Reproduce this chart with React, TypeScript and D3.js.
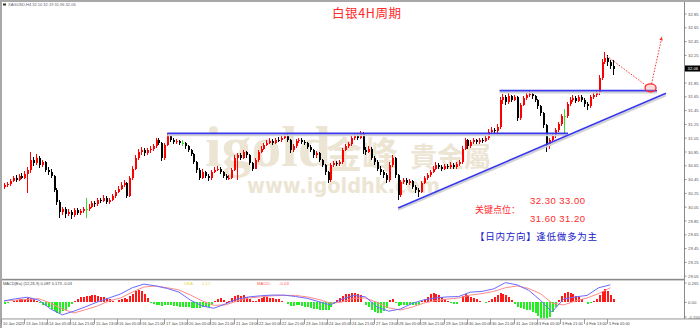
import React from "react";
import * as d3 from "d3";

// ---------- DATA ----------
const symbolHeader = "XAGUSD,H4  32.10 32.19 31.96 32.06";
const titleText = "白银4H周期";
const firstOpen = 30.35;
const closes = [
  30.37, 30.38, 30.43, 30.47, 30.45, 30.50, 30.48, 30.53, 30.59, 30.73,
  30.69, 30.76, 30.66, 30.70, 30.59, 30.56, 30.50, 30.30, 30.12, 29.98,
  30.03, 29.95, 29.98, 29.93, 30.01, 29.96, 29.99, 30.03, 30.03, 30.06,
  30.11, 30.09, 30.15, 30.14, 30.18, 30.12, 30.16, 30.21, 30.27, 30.32,
  30.37, 30.40, 30.21, 30.47, 30.61, 30.76, 30.85, 30.88, 30.83, 30.88,
  30.89, 30.93, 31.02, 30.98, 30.76, 30.95, 31.08, 31.02, 30.99, 31.01,
  30.98, 30.98, 30.93, 30.88, 30.82, 30.70, 30.59, 30.48, 30.56, 30.50,
  30.47, 30.56, 30.59, 30.61, 30.56, 30.50, 30.47, 30.48, 30.59, 30.76,
  30.80, 30.77, 30.85, 30.80, 30.69, 30.61, 30.73, 30.85, 30.90, 30.95,
  30.98, 31.01, 30.98, 31.03, 31.02, 31.06, 31.09, 31.02, 30.88, 30.93,
  31.01, 31.02, 30.99, 30.98, 30.92, 30.88, 30.80, 30.83, 30.73, 30.66,
  30.56, 30.44, 30.66, 30.69, 30.67, 30.70, 30.88, 30.93, 30.96, 31.05,
  31.08, 31.06, 31.12, 30.88, 30.85, 30.90, 30.77, 30.70, 30.61, 30.56,
  30.51, 30.44, 30.66, 30.76, 30.51, 30.22, 30.41, 30.44, 30.40, 30.43,
  30.35, 30.30, 30.27, 30.40, 30.47, 30.51, 30.56, 30.61, 30.66, 30.63,
  30.61, 30.64, 30.63, 30.66, 30.63, 30.67, 30.70, 30.90, 31.02, 30.93,
  30.99, 31.02, 30.99, 31.03, 31.01, 31.05, 31.14, 31.17, 31.15, 31.21,
  31.60, 31.64, 31.57, 31.66, 31.61, 31.64, 31.34, 31.53, 31.63, 31.67,
  31.69, 31.66, 31.60, 31.51, 31.41, 31.24, 30.93, 31.02, 31.08, 31.17,
  31.25, 31.37, 31.37, 31.54, 31.60, 31.63, 31.59, 31.64, 31.61, 31.54,
  31.51, 31.64, 31.67, 31.70, 31.92, 32.15, 32.21, 32.15, 32.10, 32.06,
];
const highs = [
  30.40, 30.42, 30.46, 30.50, 30.51, 30.53, 30.54, 30.57, 30.63, 30.85,
  30.78, 30.82, 30.79, 30.74, 30.72, 30.63, 30.60, 30.52, 30.33, 30.15,
  30.06, 30.06, 30.02, 30.01, 30.04, 30.04, 30.03, 30.06, 30.18, 30.09,
  30.14, 30.14, 30.18, 30.19, 30.22, 30.21, 30.19, 30.24, 30.30, 30.36,
  30.41, 30.44, 30.42, 30.50, 30.65, 30.80, 30.89, 30.92, 30.91, 30.91,
  30.93, 30.97, 31.06, 31.05, 31.00, 30.98, 31.13, 31.10, 31.05, 31.04,
  31.03, 31.02, 31.00, 30.95, 30.90, 30.84, 30.72, 30.62, 30.60, 30.58,
  30.53, 30.59, 30.63, 30.65, 30.63, 30.58, 30.53, 30.52, 30.62, 30.80,
  30.84, 30.84, 30.88, 30.87, 30.82, 30.71, 30.76, 30.88, 30.94, 30.98,
  31.02, 31.05, 31.04, 31.06, 31.07, 31.09, 31.13, 31.11, 31.04, 30.96,
  31.04, 31.06, 31.05, 31.03, 31.00, 30.95, 30.90, 30.86, 30.85, 30.75,
  30.68, 30.58, 30.69, 30.72, 30.72, 30.74, 30.91, 30.96, 31.00, 31.08,
  31.11, 31.11, 31.15, 31.14, 30.92, 30.93, 30.92, 30.79, 30.73, 30.64,
  30.59, 30.54, 30.70, 30.80, 30.78, 30.53, 30.44, 30.48, 30.47, 30.46,
  30.45, 30.37, 30.33, 30.43, 30.50, 30.55, 30.59, 30.65, 30.70, 30.69,
  30.66, 30.68, 30.67, 30.70, 30.69, 30.70, 30.74, 30.94, 31.06, 31.04,
  31.02, 31.05, 31.04, 31.06, 31.06, 31.08, 31.18, 31.21, 31.20, 31.25,
  31.65, 31.69, 31.67, 31.70, 31.68, 31.68, 31.66, 31.56, 31.66, 31.70,
  31.74, 31.72, 31.68, 31.62, 31.53, 31.43, 31.26, 31.05, 31.11, 31.20,
  31.29, 31.40, 31.47, 31.57, 31.64, 31.67, 31.66, 31.68, 31.67, 31.63,
  31.57, 31.67, 31.71, 31.74, 31.96, 32.20, 32.30, 32.25, 32.19, 32.19,
];
const lows = [
  30.31, 30.34, 30.36, 30.41, 30.42, 30.43, 30.46, 30.46, 30.26, 30.55,
  30.64, 30.66, 30.62, 30.63, 30.56, 30.52, 30.47, 30.27, 30.08, 29.89,
  29.94, 29.90, 29.92, 29.88, 29.91, 29.93, 29.94, 29.97, 29.89, 30.00,
  30.04, 30.06, 30.07, 30.11, 30.12, 30.10, 30.10, 30.14, 30.19, 30.25,
  30.30, 30.35, 30.18, 30.20, 30.45, 30.59, 30.73, 30.80, 30.79, 30.80,
  30.84, 30.86, 30.91, 30.95, 30.72, 30.74, 30.93, 30.99, 30.96, 30.96,
  30.95, 30.94, 30.90, 30.85, 30.79, 30.67, 30.55, 30.45, 30.46, 30.47,
  30.43, 30.45, 30.54, 30.57, 30.53, 30.47, 30.44, 30.44, 30.46, 30.57,
  30.44, 30.74, 30.75, 30.77, 30.66, 30.58, 30.60, 30.71, 30.83, 30.88,
  30.93, 30.96, 30.95, 30.96, 30.99, 31.00, 31.04, 30.99, 30.84, 30.85,
  30.91, 30.98, 30.96, 30.95, 30.89, 30.85, 30.77, 30.77, 30.70, 30.63,
  30.52, 30.40, 30.42, 30.63, 30.64, 30.65, 30.68, 30.86, 30.91, 30.94,
  31.03, 31.03, 31.04, 30.82, 30.80, 30.83, 30.74, 30.66, 30.58, 30.52,
  30.47, 30.40, 30.42, 30.63, 30.48, 30.15, 30.20, 30.38, 30.37, 30.37,
  30.32, 30.26, 30.20, 30.25, 30.38, 30.45, 30.49, 30.54, 30.59, 30.60,
  30.58, 30.59, 30.60, 30.61, 30.60, 30.61, 30.65, 30.68, 30.88, 30.90,
  30.91, 30.97, 30.96, 30.97, 30.98, 30.99, 31.03, 31.12, 31.12, 31.13,
  31.19, 31.55, 31.53, 31.55, 31.58, 31.59, 31.30, 31.32, 31.51, 31.60,
  31.64, 31.62, 31.57, 31.47, 31.37, 31.20, 30.85, 30.89, 30.99, 31.05,
  31.14, 31.23, 31.12, 31.35, 31.52, 31.58, 31.56, 31.57, 31.58, 31.50,
  31.46, 31.49, 31.62, 31.65, 31.68, 31.90, 32.12, 32.10, 32.06, 31.96,
];
const macdHist = [
  -0.02, -0.01, 0.01, 0.02, 0.03, 0.04, 0.05, 0.05, 0.06, 0.06,
  0.04, 0.02, -0.01, -0.03, -0.05, -0.07, -0.09, -0.12, -0.15, -0.14,
  -0.12, -0.10, -0.06, -0.02, 0.02, 0.05, 0.07, 0.08, 0.09, 0.09,
  0.10, 0.10, 0.09, 0.08, 0.07, 0.06, 0.04, 0.02, 0.01, 0.03,
  0.05, 0.06, 0.04, 0.09, 0.12, 0.15, 0.17, 0.16, 0.12, 0.06,
  -0.01, -0.02, -0.03, -0.03, -0.05, -0.04, -0.03, -0.04, -0.05, -0.05,
  -0.06, -0.06, -0.07, -0.07, -0.08, -0.08, -0.08, -0.08, -0.07, -0.07,
  -0.06, -0.04, 0.02, 0.05, 0.06, 0.03, 0.00, 0.02, 0.06, 0.09,
  0.10, 0.09, 0.10, 0.08, 0.05, 0.02, 0.02, 0.04, 0.06, 0.07,
  0.07, 0.06, 0.06, 0.05, 0.04, 0.02, 0.01, -0.02, -0.05, -0.05,
  -0.04, -0.04, -0.05, -0.06, -0.07, -0.08, -0.09, -0.09, -0.10, -0.10,
  -0.11, -0.11, -0.07, -0.02, 0.03, 0.06, 0.09, 0.11, 0.12, 0.13,
  0.13, 0.12, 0.10, 0.01, -0.03, -0.06, -0.10, -0.13, -0.15, -0.14,
  -0.12, -0.08, 0.03, 0.04, -0.01, -0.05, -0.04, -0.03, -0.04, -0.03,
  -0.04, -0.04, -0.03, 0.02, 0.05, 0.08, 0.11, 0.13, 0.12, 0.10,
  0.08, 0.05, 0.02, -0.01, -0.02, -0.02, 0.01, 0.09, 0.12, 0.10,
  0.08, 0.06, 0.04, 0.02, 0.01, -0.01, 0.02, 0.04, 0.07, 0.10,
  0.13, 0.12, 0.10, 0.07, 0.03, -0.02, -0.06, -0.08, -0.09, -0.10,
  -0.11, -0.13, -0.15, -0.18, -0.22, -0.26, -0.25, -0.20, -0.13, -0.06,
  0.03, 0.09, 0.13, 0.14, 0.13, 0.11, 0.09, 0.07, 0.04, 0.01,
  -0.02, -0.01, 0.02, 0.04, 0.10, 0.16, 0.18, 0.15, 0.10, 0.05,
];
// DIF / DEA read every 4 bars
const lineStep = 4;
const difLine = [
  0.02, 0.05, 0.07, 0.03, -0.09, -0.17, -0.12, -0.06, 0.005, 0.06,
  0.115, 0.20, 0.25, 0.225, 0.19, 0.14, 0.03, -0.05, -0.08, -0.02,
  0.045, 0.075, 0.09, 0.10, 0.10, 0.08, 0.055, 0.01, -0.035, 0.045,
  0.095, 0.075, -0.065, -0.12, -0.09, -0.015, 0.035, 0.06, 0.075, 0.08,
  0.14, 0.15, 0.185, 0.27, 0.24, 0.165, 0.03, -0.13, 0.045, 0.075,
  0.095, 0.20, 0.24,
];
const deaLine = [
  0.02, 0.03, 0.04, 0.05, -0.01, -0.09, -0.145, -0.10, -0.05, 0.02,
  0.06, 0.14, 0.21, 0.225, 0.20, 0.17, 0.10, 0.02, -0.04, -0.035,
  0.02, 0.06, 0.075, 0.09, 0.095, 0.095, 0.075, 0.04, -0.01, 0.005,
  0.055, 0.06, 0, -0.075, -0.105, -0.065, -0.01, 0.025, 0.045, 0.06,
  0.10, 0.12, 0.15, 0.20, 0.225, 0.19, 0.12, -0.01, -0.035, 0.02,
  0.06, 0.12, 0.20,
];
const macdHeader = "MACD(Ea) (12,26,9) 0.087 0.173 -0.03";
const deaLabel = ["DEA:", "0.17"];
const macdLabel = ["MACD:", "-0.03"];
const labelEvery = 8;
const timeLabels = [
  "10 Jan 2025", "13 Jan 13:00", "14 Jan 05:00", "14 Jan 21:00", "15 Jan 13:00",
  "16 Jan 05:00", "16 Jan 21:00", "17 Jan 13:00", "20 Jan 05:00", "20 Jan 21:00",
  "21 Jan 13:00", "22 Jan 05:00", "22 Jan 21:00", "23 Jan 13:00", "24 Jan 05:00",
  "24 Jan 21:00", "27 Jan 13:00", "28 Jan 05:00", "28 Jan 21:00", "29 Jan 13:00",
  "30 Jan 05:00", "30 Jan 21:00", "31 Jan 13:00", "3 Feb 05:00", "3 Feb 21:00",
  "4 Feb 13:00", "5 Feb 05:00",
];
const priceTicks = [
  32.85, 32.65, 32.45, 32.25, 32.05, 31.85, 31.65, 31.45, 31.25, 31.05,
  30.85, 30.65, 30.45, 30.25, 30.05, 29.85, 29.65, 29.45, 29.25, 29.05,
];
const macdTicks = [0.265, 0, -0.2];
const macdTickLabels = ["0.265", "0.00", "-0.200"];
// drawn objects (bar index, price)
const resistance = { from: [170, 31.74], to: [224, 31.74] };
const support = { from: [56, 31.12], to: [193.5, 31.12] };
const trendUp = { from: [135.2, 30.04], to: [227.1, 31.7] };
const projPeak = [206.8, 32.24];
const projTarget = [221.8, 31.78];
const projTip = [225.7, 32.52];
const keyTitle = "关键点位：";
const keyHigh = "32.30 33.00";
const keyLow = "31.60 31.20";
const direction = "【日内方向】逢低做多为主";
const wmBrand = "igold";
const wmCn1 = "金峰";
const wmCn2 = "貴金屬";
const wmUrl = "www.igoldhk.com";

// ---------- SCALES ----------
const xs = d3.scaleLinear().domain([0, 230]).range([4, 4 + 2.915 * 230]);
const yp = d3.scaleLinear().domain([29.05, 32.85]).range([276.2, 14]);
const ym = d3.scaleLinear().domain([-0.2, 0.265]).range([317, 283]);

const RED = "#ff0000";
const BLACK = "#000000";
const GREEN = "#33dd33";
const BLUE = "#3838ee";
const SMALL = "'Liberation Sans', Arial, sans-serif";
const CJK = "'Noto Sans CJK SC', sans-serif";

function TLine({ a, b }: { a: number[]; b: number[] }) {
  const x1 = xs(a[0]), y1 = yp(a[1]), x2 = xs(b[0]), y2 = yp(b[1]);
  return (
    <g>
      <line x1={x1} y1={y1 + 2} x2={x2} y2={y2 + 2} stroke="#d2d2d2" strokeWidth={2} />
      <line x1={x1} y1={y1} x2={x2} y2={y2} stroke={BLUE} strokeWidth={1.6} />
    </g>
  );
}

export default function App() {
  const candles = closes.map((c, i) => {
    const o = i === 0 ? firstOpen : closes[i - 1];
    return { o, h: highs[i], l: lows[i], c };
  });
  const last = closes[closes.length - 1];

  const difPath = d3.line<number>().x((_, k) => xs(k * lineStep)).y((v) => ym(v))(difLine) || "";
  const deaPath = d3.line<number>().x((_, k) => xs(k * lineStep)).y((v) => ym(v))(deaLine) || "";

  const tx = xs(projTarget[0]), ty = yp(projTarget[1]);
  const tipX = xs(projTip[0]), tipY = yp(projTip[1]);
  const ang = Math.atan2(tipY - (ty - 4), tipX - tx);
  const ah = 4;
  const arrowPts = [
    [tipX, tipY],
    [tipX - ah * Math.cos(ang - 0.45), tipY - ah * Math.sin(ang - 0.45)],
    [tipX - ah * Math.cos(ang + 0.45), tipY - ah * Math.sin(ang + 0.45)],
  ].map((p) => p.join(",")).join(" ");

  return (
    <div style={{ position: "absolute", left: 0, top: 0, width: 700, height: 328 }}>
      <svg width={700} height={328} style={{ display: "block" }}>
        <defs>
          <clipPath id="mainClip"><rect x={2} y={2} width={682} height={277} /></clipPath>
          <clipPath id="macdClip"><rect x={2} y={281} width={682} height={37} /></clipPath>
        </defs>
        <rect x={0} y={0} width={700} height={328} fill="#ffffff" />
        {/* frame */}
        <rect x={0} y={0} width={700} height={2} fill="#a8a8a8" />
        <rect x={0} y={0} width={2} height={328} fill="#a8a8a8" />

        {/* watermark */}
        <g fill="#ece5d4">
          <text x={205} y={166} fontFamily="'Liberation Serif', serif" fontWeight="bold" fontSize={56}
            textLength={126} lengthAdjust="spacingAndGlyphs">{wmBrand}</text>
          <text x={326} y={168} fontFamily={CJK} fontWeight="bold" fontSize={36}>{wmCn1}</text>
          <text x={410} y={167} fontFamily={CJK} fontWeight="bold" fontSize={27}>{wmCn2}</text>
          <text x={247} y={193} fontFamily="'DejaVu Sans', sans-serif" fontWeight="bold" fontSize={22}
            textLength={193} lengthAdjust="spacingAndGlyphs">{wmUrl}</text>
        </g>

        {/* header */}
        <rect x={3} y={3.5} width={3} height={2} fill="#333" />
        <text x={8} y={6} fontFamily={SMALL} fontSize={4} fill="#606070">{symbolHeader}</text>
        <text x={332} y={18} fontFamily={CJK} fontSize={12.5} fill="#ff2a2a" letterSpacing={0.6}>{titleText}</text>

        {/* candles */}
        <g clipPath="url(#mainClip)" shapeRendering="crispEdges">
          {candles.map((d, i) => {
            const px = Math.round(xs(i));
            const col = d.c > d.o ? RED : d.c < d.o ? BLACK : GREEN;
            const yt = Math.min(yp(d.o), yp(d.c));
            const hgt = Math.max(1, Math.abs(yp(d.o) - yp(d.c)));
            return (
              <g key={i}>
                <line x1={px + 0.5} x2={px + 0.5} y1={yp(d.h)} y2={yp(d.l)} stroke={col} strokeWidth={1} />
                <rect x={px} y={yt} width={2} height={hgt} fill={col} />
              </g>
            );
          })}
        </g>

        {/* drawn lines */}
        <g clipPath="url(#mainClip)">
          <TLine a={support.from} b={support.to} />
          <TLine a={resistance.from} b={resistance.to} />
          <TLine a={trendUp.from} b={trendUp.to} />
          <line x1={xs(projPeak[0])} y1={yp(projPeak[1])} x2={tx - 4} y2={ty - 2}
            stroke="#ff3030" strokeWidth={1} strokeDasharray="1.5 1.5" />
          <line x1={tx + 1} y1={ty - 4} x2={tipX} y2={tipY}
            stroke="#ff3030" strokeWidth={1} strokeDasharray="1.5 1.5" />
          <polygon points={arrowPts} fill="#ff3030" />
          <ellipse cx={tx} cy={ty} rx={5.5} ry={4} fill="rgba(255,140,140,0.3)" stroke="#ff2a2a" strokeWidth={1.3} />
        </g>

        {/* key levels text */}
        <text x={530} y={204} fontFamily={SMALL} fontSize={9.5} fill="#ff2a2a" textLength={55} lengthAdjust="spacing">{keyHigh}</text>
        <text x={475} y={213} fontFamily={CJK} fontSize={9} fill="#ff2a2a">{keyTitle}</text>
        <text x={530} y={222} fontFamily={SMALL} fontSize={9.5} fill="#ff2a2a" textLength={55} lengthAdjust="spacing">{keyLow}</text>
        <text x={475} y={239.5} fontFamily={CJK} fontSize={9.5} fill="#2222cc" textLength={122} lengthAdjust="spacing">{direction}</text>

        {/* right axis */}
        <line x1={684.5} x2={684.5} y1={2} y2={319} stroke="#8a8a8a" strokeWidth={1} />
        {priceTicks.map((t, i) => (
          <g key={i}>
            <line x1={684.5} x2={686.5} y1={yp(t)} y2={yp(t)} stroke="#777" strokeWidth={0.8} />
            <text x={688} y={yp(t) + 1.5} fontFamily={SMALL} fontSize={4.3} fill="#555">{t.toFixed(2)}</text>
          </g>
        ))}
        <rect x={685} y={yp(last) - 3} width={15} height={6} fill="#000" />
        <text x={687.5} y={yp(last) + 1.5} fontFamily={SMALL} fontSize={4.3} fill="#fff">{last.toFixed(2)}</text>

        {/* separator */}
        <rect x={2} y={278.8} width={682.5} height={1.6} fill="#8a8a8a" />

        {/* MACD panel */}
        <g clipPath="url(#macdClip)">
          <g shapeRendering="crispEdges">
            {macdHist.map((v, i) => {
              const px = Math.round(xs(i));
              const y0 = ym(0), y1 = ym(v);
              return (
                <rect key={i} x={px} y={Math.min(y0, y1)} width={2} height={Math.max(0.6, Math.abs(y1 - y0))}
                  fill={v >= 0 ? "#ff1a1a" : "#22ee22"} />
              );
            })}
          </g>
          <path d={deaPath} fill="none" stroke="#ff8a8a" strokeWidth={1} />
          <path d={difPath} fill="none" stroke="#6a6aff" strokeWidth={1} />
        </g>
        <text x={3} y={284.5} fontFamily={SMALL} fontSize={4} fill="#444">{macdHeader}</text>
        <text x={184} y={284.5} fontFamily={SMALL} fontSize={4.3} fill="#e8d84a">{deaLabel[0]}</text>
        <text x={202} y={284.5} fontFamily={SMALL} fontSize={4.3} fill="#e8d84a">{deaLabel[1]}</text>
        <text x={257} y={284.5} fontFamily={SMALL} fontSize={4.3} fill="#ff5a5a">{macdLabel[0]}</text>
        <text x={279} y={284.5} fontFamily={SMALL} fontSize={4.3} fill="#ff5a5a">{macdLabel[1]}</text>
        {macdTicks.map((t, i) => (
          <g key={i}>
            <line x1={684.5} x2={686.5} y1={ym(t)} y2={ym(t)} stroke="#777" strokeWidth={0.8} />
            <text x={688} y={ym(t) + 1.5} fontFamily={SMALL} fontSize={4.3} fill="#555">{macdTickLabels[i]}</text>
          </g>
        ))}

        {/* bottom axis */}
        <rect x={2} y={318.5} width={698} height={0.9} fill="#8a8a8a" />
        {timeLabels.map((lab, k) => {
          const x = Math.round(xs(k * labelEvery) - 3.5) + 0.5;
          return (
            <g key={k}>
              <line x1={x} x2={x} y1={319} y2={324} stroke="#888" strokeWidth={0.8} />
              <text x={x + 1.5} y={324.5} fontFamily={SMALL} fontSize={3.9} fill="#444">{lab}</text>
            </g>
          );
        })}
      </svg>
    </div>
  );
}
